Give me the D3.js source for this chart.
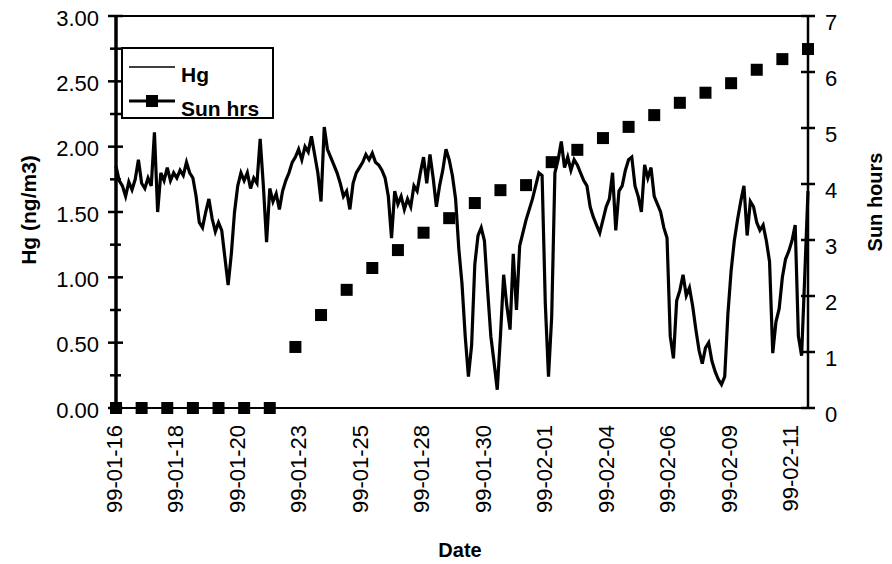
<!DOCTYPE html>
<html>
<head>
<meta charset="utf-8">
<script src="https://cdn.jsdelivr.net/npm/d3@7"></script>
<style>
  body { margin: 0; background: #fff; }
  svg { display: block; }
  text { font-family: "Liberation Sans", Arial, sans-serif; fill: #000; }
</style>
</head>
<body>
<svg id="chart" width="892" height="564"></svg>
<script>
// Hg readings, one every 3 hours from 99-01-16 00:00
var hgStart = "1999-01-16T00:00";
var hgStepHours = 3;
var hgValues = [
    1.85, 1.74, 1.70, 1.62, 1.73, 1.67, 1.75, 1.90,  // 01-16
    1.72, 1.68, 1.76, 1.70, 2.11, 1.50, 1.80, 1.74,  // 01-17
    1.84, 1.74, 1.80, 1.76, 1.82, 1.78, 1.88, 1.80,  // 01-18
    1.76, 1.62, 1.42, 1.38, 1.50, 1.60, 1.45, 1.35,  // 01-19
    1.42, 1.36, 1.15, 0.94, 1.18, 1.50, 1.70, 1.80,  // 01-20
    1.74, 1.80, 1.68, 1.76, 1.72, 2.06, 1.70, 1.27,  // 01-21
    1.68, 1.58, 1.64, 1.52, 1.66, 1.74, 1.80, 1.88,  // 01-22
    1.92, 1.98, 1.90, 2.00, 1.96, 2.08, 1.94, 1.80,  // 01-23
    1.58, 2.15, 1.98, 1.92, 1.86, 1.80, 1.72, 1.62,  // 01-24
    1.66, 1.52, 1.72, 1.80, 1.84, 1.88, 1.94, 1.90,  // 01-25
    1.95, 1.88, 1.86, 1.82, 1.76, 1.62, 1.30, 1.66,  // 01-26
    1.56, 1.62, 1.52, 1.60, 1.54, 1.70, 1.66, 1.80,  // 01-27
    1.92, 1.72, 1.94, 1.76, 1.54, 1.70, 1.82, 1.98,  // 01-28
    1.90, 1.78, 1.60, 1.22, 0.95, 0.55, 0.24, 0.48,  // 01-29
    1.10, 1.32, 1.38, 1.28, 0.90, 0.55, 0.35, 0.14,  // 01-30
    0.55, 1.02, 0.78, 0.60, 1.18, 0.75, 1.24, 1.34,  // 01-31
    1.44, 1.52, 1.60, 1.70, 1.80, 1.78, 0.80, 0.24,  // 02-01
    0.70, 1.80, 1.90, 2.04, 1.84, 1.92, 1.82, 1.90,  // 02-02
    1.86, 1.80, 1.74, 1.70, 1.54, 1.46, 1.40, 1.34,  // 02-03
    1.44, 1.54, 1.60, 1.80, 1.36, 1.66, 1.70, 1.82,  // 02-04
    1.90, 1.92, 1.70, 1.62, 1.50, 1.86, 1.76, 1.84,  // 02-05
    1.62, 1.56, 1.50, 1.38, 1.30, 0.55, 0.38, 0.82,  // 02-06
    0.90, 1.02, 0.86, 0.92, 0.78, 0.60, 0.44, 0.34,  // 02-07
    0.46, 0.50, 0.36, 0.28, 0.22, 0.18, 0.24, 0.72,  // 02-08
    1.05, 1.28, 1.44, 1.58, 1.70, 1.32, 1.58, 1.54,  // 02-09
    1.42, 1.36, 1.40, 1.28, 1.12, 0.42, 0.66, 0.76,  // 02-10
    1.00, 1.14, 1.20, 1.28, 1.40, 0.55, 0.40, 1.02,  // 02-11
    1.66
];

var sunDates = [
    "1999-01-16", "1999-01-17", "1999-01-18", "1999-01-19", "1999-01-20", "1999-01-21", "1999-01-22",
    "1999-01-23", "1999-01-24", "1999-01-25", "1999-01-26", "1999-01-27", "1999-01-28", "1999-01-29",
    "1999-01-30", "1999-01-31", "1999-02-01", "1999-02-02", "1999-02-03", "1999-02-04", "1999-02-05",
    "1999-02-06", "1999-02-07", "1999-02-08", "1999-02-09", "1999-02-10", "1999-02-11", "1999-02-12"
];
var sunHours = [
    0, 0, 0, 0, 0, 0, 0,
    1.09, 1.66, 2.11, 2.50, 2.82, 3.13, 3.39,
    3.66, 3.89, 3.98, 4.39, 4.61, 4.82, 5.02,
    5.23, 5.45, 5.63, 5.80, 6.04, 6.23, 6.41
];

var xTickDates = [
    "1999-01-16T00:00", "1999-01-18T09:36", "1999-01-20T19:12", "1999-01-23T04:48",
    "1999-01-25T14:24", "1999-01-28T00:00", "1999-01-30T09:36", "1999-02-01T19:12",
    "1999-02-04T04:48", "1999-02-06T14:24", "1999-02-09T00:00", "1999-02-11T09:36"
];
var hgTicks = [0, 0.5, 1, 1.5, 2, 2.5, 3];
var hgMinorTicks = [0.25, 0.75, 1.25, 1.75, 2.25, 2.75];
var sunTicks = [0, 1, 2, 3, 4, 5, 6, 7];

var parseTime = d3.utcParse("%Y-%m-%dT%H:%M");
var parseDay = d3.utcParse("%Y-%m-%d");
var fmtDate = d3.utcFormat("%y-%m-%d");

var plotLeft = 116, plotRight = 808, plotTop = 16, plotBottom = 408;

var svg = d3.select("#chart");
svg.append("rect").attr("width", 892).attr("height", 564).attr("fill", "#fff");

var t0 = parseTime(hgStart);
var hgData = hgValues.map(function (v, i) {
    return { t: d3.utcHour.offset(t0, i * hgStepHours), v: v };
});
var sunData = sunDates.map(function (d, i) {
    return { t: parseDay(d), v: sunHours[i] };
});

var x = d3.scaleUtc()
    .domain([parseDay("1999-01-16"), parseDay("1999-02-12")])
    .range([plotLeft, plotRight]);
var yHg = d3.scaleLinear().domain([0, 3]).range([plotBottom, plotTop]);
var ySun = d3.scaleLinear().domain([0, 7]).range([plotBottom, plotTop]);

// frame
svg.append("line").attr("x1", plotLeft).attr("x2", plotRight).attr("y1", plotTop).attr("y2", plotTop)
    .attr("stroke", "#000").attr("stroke-width", 2);

// Hg line
var line = d3.line()
    .x(function (d) { return x(d.t); })
    .y(function (d) { return yHg(d.v); });
svg.append("path")
    .datum(hgData)
    .attr("d", line)
    .attr("fill", "none")
    .attr("stroke", "#000")
    .attr("stroke-width", 3.2)
    .attr("stroke-linejoin", "miter");

// bottom axis line
svg.append("line").attr("x1", plotLeft).attr("x2", plotRight).attr("y1", plotBottom).attr("y2", plotBottom)
    .attr("stroke", "#000").attr("stroke-width", 2);

// right axis
svg.append("line").attr("x1", plotRight).attr("x2", plotRight).attr("y1", plotTop).attr("y2", plotBottom)
    .attr("stroke", "#000").attr("stroke-width", 2.5);
svg.append("g").selectAll("line")
    .data(sunTicks)
    .enter()
    .append("line")
    .attr("x1", plotRight - 7).attr("x2", plotRight + 7)
    .attr("y1", function (d) { return ySun(d); })
    .attr("y2", function (d) { return ySun(d); })
    .attr("stroke", "#000").attr("stroke-width", 2.5);
svg.append("g").selectAll("text")
    .data(sunTicks)
    .enter()
    .append("text")
    .attr("x", plotRight + 17)
    .attr("y", function (d) { return ySun(d) + 6; })
    .attr("dy", "0.35em")
    .attr("font-size", 22)
    .text(function (d) { return d; });

// left axis
svg.append("line").attr("x1", plotLeft).attr("x2", plotLeft).attr("y1", plotTop).attr("y2", plotBottom)
    .attr("stroke", "#000").attr("stroke-width", 3.5);
svg.append("g").selectAll("line")
    .data(hgTicks)
    .enter()
    .append("line")
    .attr("x1", plotLeft - 8).attr("x2", plotLeft + 7)
    .attr("y1", function (d) { return yHg(d); })
    .attr("y2", function (d) { return yHg(d); })
    .attr("stroke", "#000").attr("stroke-width", 2.5);
svg.append("g").selectAll("line")
    .data(hgMinorTicks)
    .enter()
    .append("line")
    .attr("x1", plotLeft - 6).attr("x2", plotLeft + 5)
    .attr("y1", function (d) { return yHg(d); })
    .attr("y2", function (d) { return yHg(d); })
    .attr("stroke", "#000").attr("stroke-width", 2.5);
svg.append("g").selectAll("text")
    .data(hgTicks)
    .enter()
    .append("text")
    .attr("x", plotLeft - 17)
    .attr("y", function (d) { return yHg(d) + 2; })
    .attr("dy", "0.35em")
    .attr("text-anchor", "end")
    .attr("font-size", 22)
    .text(d3.format(".2f"));

// x tick labels
svg.append("g").selectAll("text")
    .data(xTickDates)
    .enter()
    .append("text")
    .attr("transform", function (d) {
        return "translate(" + (x(parseTime(d)) - 2) + "," + 425 + ") rotate(-90)";
    })
    .attr("dy", "0.35em")
    .attr("text-anchor", "end")
    .attr("font-size", 22)
    .text(function (d) { return fmtDate(parseTime(d)); });

// Sun hrs markers
svg.append("g").selectAll("rect")
    .data(sunData)
    .enter()
    .append("rect")
    .attr("x", function (d) { return x(d.t) - 6; })
    .attr("y", function (d) { return ySun(d.v) - 6; })
    .attr("width", 12)
    .attr("height", 12)
    .attr("fill", "#000");

// axis titles
svg.append("text")
    .attr("transform", "translate(36,210) rotate(-90)")
    .attr("text-anchor", "middle")
    .attr("font-size", 21)
    .attr("font-weight", "bold")
    .text("Hg (ng/m3)");
svg.append("text")
    .attr("transform", "translate(882,202) rotate(-90)")
    .attr("text-anchor", "middle")
    .attr("font-size", 20)
    .attr("font-weight", "bold")
    .text("Sun hours");
svg.append("text")
    .attr("x", 460)
    .attr("y", 557)
    .attr("text-anchor", "middle")
    .attr("font-size", 20)
    .attr("font-weight", "bold")
    .text("Date");

// legend
var legend = svg.append("g");
legend.append("rect")
    .attr("x", 122).attr("y", 48).attr("width", 151).attr("height", 70)
    .attr("fill", "#fff").attr("stroke", "#000").attr("stroke-width", 2);
legend.append("line")
    .attr("x1", 129).attr("x2", 175).attr("y1", 67).attr("y2", 67)
    .attr("stroke", "#000").attr("stroke-width", 1.5);
legend.append("text")
    .attr("x", 181).attr("y", 82)
    .attr("font-size", 21).attr("font-weight", "bold")
    .text("Hg");
legend.append("line")
    .attr("x1", 129).attr("x2", 175).attr("y1", 101).attr("y2", 101)
    .attr("stroke", "#000").attr("stroke-width", 3);
legend.append("rect")
    .attr("x", 146).attr("y", 95).attr("width", 12).attr("height", 12)
    .attr("fill", "#000");
legend.append("text")
    .attr("x", 181).attr("y", 116)
    .attr("font-size", 21).attr("font-weight", "bold")
    .text("Sun hrs");
</script>
</body>
</html>
